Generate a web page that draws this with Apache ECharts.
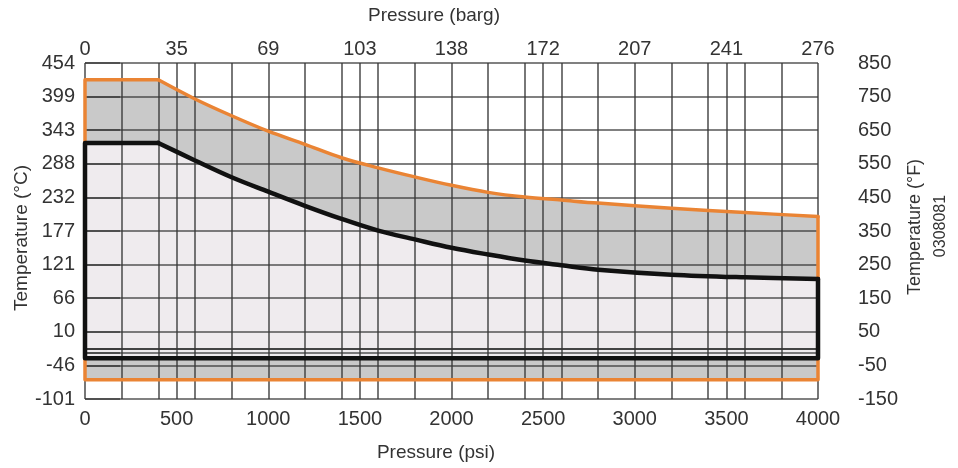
<!DOCTYPE html>
<html>
<head>
<meta charset="utf-8">
<script src="https://cdn.jsdelivr.net/npm/echarts@6/dist/echarts.min.js"></script>
<style>
html,body{margin:0;padding:0;background:#fff;}
#chart{width:958px;height:468px;}
</style>
</head>
<body>
<div id="chart"></div>
<script>
'use strict';

// axes: pressure in psi (bottom) / barg (top), temperature in °F (right) / °C (left)
let psiTicks = [0, 500, 1000, 1500, 2000, 2500, 3000, 3500, 4000];
let bargLabels = ['0', '35', '69', '103', '138', '172', '207', '241', '276'];
let psiGrid = [0, 200, 400, 500, 600, 800, 1000, 1200, 1400, 1500, 1600, 1800, 2000,
    2200, 2400, 2500, 2600, 2800, 3000, 3200, 3400, 3500, 3600, 3800, 4000];
let tempFTicks = [-150, -50, 50, 150, 250, 350, 450, 550, 650, 750, 850];
let tempCLabels = ['-101', '-46', '10', '66', '121', '177', '232', '288', '343', '399', '454'];
let tempFGrid = [-150, -50, -12, 0, 50, 150, 250, 350, 450, 550, 650, 750, 850];

// outer (orange) envelope
let outerPsi = [0, 400, 600, 800, 1000, 1200, 1400, 1600, 1800, 2000, 2200, 2400, 2600, 2800, 3200, 3600, 4000];
let outerTop = [800, 800, 743, 693, 647, 608, 568, 538, 511, 486, 465, 451, 442, 433, 418, 405, 393];
let outerBottom = -93;

// inner (black) envelope
let innerPsi = [0, 400, 600, 800, 1000, 1200, 1400, 1600, 1800, 2000, 2200, 2400, 2600, 2800, 3200, 3600, 4000];
let innerTop = [612, 612, 560, 510, 467, 425, 386, 351, 325, 300, 280, 262, 248, 235, 220, 212, 207];
let innerBottom = -29;

let labelFont = {fontFamily: 'Liberation Sans', fontSize: 20, color: '#333'};
let gridColor = 'rgba(55,55,55,0.85)';
let titleFont = function(size) { return size + 'px "Liberation Sans"'; };

// filled area: straight segments, drawn under the grid
let fillShape = function(psi, top, bottom, color) {
    return function(params, api) {
        if (params.dataIndex !== 0) {
            return;
        }
        let pts = psi.map(function(p, i) {
            return api.coord([p, top[i]]);
        });
        pts.push(api.coord([psi[psi.length - 1], bottom]));
        pts.push(api.coord([psi[0], bottom]));
        return {type: 'polygon', shape: {points: pts}, style: {fill: color}};
    };
};

// outline: smooth curve after the knee, straight edges elsewhere
let strokeShape = function(psi, top, bottom, color, width) {
    return function(params, api) {
        if (params.dataIndex !== 0) {
            return;
        }
        let n = psi.length;
        let curve = [];
        for (let i = 1; i < n; i++) {
            curve.push(api.coord([psi[i], top[i]]));
        }
        let edges = [
            api.coord([psi[n - 1], top[n - 1]]),
            api.coord([psi[n - 1], bottom]),
            api.coord([psi[0], bottom]),
            api.coord([psi[0], top[0]]),
            api.coord([psi[1], top[1]])
        ];
        let style = {fill: null, stroke: color, lineWidth: width, lineJoin: 'round', lineCap: 'round'};
        return {
            type: 'group',
            children: [
                {type: 'polyline', shape: {points: edges}, style: style},
                {type: 'polyline', shape: {points: curve, smooth: 0.35}, style: style}
            ]
        };
    };
};

let envelope = function(psi, top, render, z) {
    return {
        type: 'custom',
        z: z,
        silent: true,
        xAxisIndex: 0,
        yAxisIndex: 0,
        data: psi.map(function(p, i) { return [p, top[i]]; }),
        renderItem: render
    };
};

let myChart = echarts.init(document.getElementById('chart'));

let option = {
    animation: false,
    grid: {left: 85, right: 140, top: 63, bottom: 69},
    xAxis: [
        {
            type: 'value', position: 'bottom', min: 0, max: 4000, z: 1,
            axisLine: {show: false},
            axisTick: {show: false, customValues: psiGrid},
            axisLabel: Object.assign({
                customValues: psiTicks, margin: 10,
                formatter: function(v) { return String(v); }
            }, labelFont),
            splitLine: {show: true, lineStyle: {color: gridColor, width: 1.6}}
        },
        {
            type: 'value', position: 'top', min: 0, max: 4000, z: 1,
            axisLine: {show: true, lineStyle: {color: '#333', width: 1.5}},
            axisTick: {show: false},
            axisLabel: Object.assign({
                customValues: psiTicks, margin: 4,
                formatter: function(v) { return bargLabels[psiTicks.indexOf(v)]; }
            }, labelFont),
            splitLine: {show: false}
        }
    ],
    yAxis: [
        {
            type: 'value', position: 'left', min: -150, max: 850, z: 1,
            axisLine: {show: false},
            axisTick: {show: false},
            axisLabel: Object.assign({
                customValues: tempFTicks, margin: 10,
                formatter: function(v) { return tempCLabels[tempFTicks.indexOf(v)]; }
            }, labelFont),
            splitLine: {show: false}
        },
        {
            type: 'value', position: 'right', min: -150, max: 850, z: 1,
            axisLine: {show: false},
            axisTick: {show: true, inside: false, length: 35, customValues: tempFGrid,
                lineStyle: {color: gridColor, width: 1.6}},
            axisLabel: Object.assign({
                customValues: tempFTicks, margin: 40,
                formatter: function(v) { return String(v); }
            }, labelFont),
            splitLine: {show: true, lineStyle: {color: gridColor, width: 1.6}}
        }
    ],
    graphic: [
        {type: 'text', x: 434, y: 16, style: {text: 'Pressure (barg)', align: 'center', verticalAlign: 'middle', fill: '#333', font: titleFont(19)}},
        {type: 'text', x: 436, y: 453, style: {text: 'Pressure (psi)', align: 'center', verticalAlign: 'middle', fill: '#333', font: titleFont(19)}},
        {type: 'text', x: 22, y: 238, rotation: Math.PI / 2, style: {text: 'Temperature (°C)', align: 'center', verticalAlign: 'middle', fill: '#333', font: titleFont(19)}},
        {type: 'text', x: 915, y: 227, rotation: Math.PI / 2, style: {text: 'Temperature (°F)', align: 'center', verticalAlign: 'middle', fill: '#333', font: titleFont(18)}},
        {type: 'text', x: 941, y: 226, rotation: Math.PI / 2, style: {text: '0308081', align: 'center', verticalAlign: 'middle', fill: '#333', font: titleFont(16)}}
    ],
    series: [
        envelope(outerPsi, outerTop, fillShape(outerPsi, outerTop, outerBottom, '#c9c9c9'), 0),
        envelope(innerPsi, innerTop, fillShape(innerPsi, innerTop, innerBottom, '#efebee'), 0),
        envelope(outerPsi, outerTop, strokeShape(outerPsi, outerTop, outerBottom, '#ea8434', 3.5), 3),
        envelope(innerPsi, innerTop, strokeShape(innerPsi, innerTop, innerBottom, '#111', 4.5), 4)
    ]
};

myChart.setOption(option);
</script>
</body>
</html>
